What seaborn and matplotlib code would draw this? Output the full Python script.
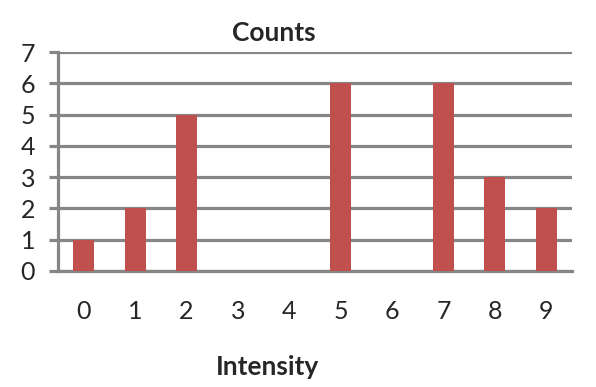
import matplotlib
matplotlib.use("Agg")
from matplotlib import pyplot as plt
import numpy as np
import pandas as pd
import seaborn as sns

# Data
intensity = ["0", "1", "2", "3", "4", "5", "6", "7", "8", "9"]
counts = [1, 2, 5, 0, 0, 6, 0, 6, 3, 2]
y_ticks = [0, 1, 2, 3, 4, 5, 6, 7]

df = pd.DataFrame({"Intensity": intensity, "Counts": counts})

sns.set_style("white")
plt.rcParams['font.family'] = ['Lato', 'DejaVu Sans']

grey = "#868686"
fig = plt.figure(figsize=(5.96, 3.87), dpi=100)
ax = fig.add_axes([58 / 596, 1 - 271 / 387, (572 - 58) / 596, (271 - 52) / 387])

ax.grid(axis="y", color=grey, linewidth=2.3, zorder=0)
ax.set_axisbelow(True)
sns.barplot(data=df, x="Intensity", y="Counts", color="#C0504D", saturation=1,
            width=0.41, linewidth=0, ax=ax, zorder=3)

ax.set_xlim(-0.5, 9.5)
ax.set_ylim(0, 7)
ax.set_yticks(y_ticks)
ax.set_xticks(np.arange(-0.5, 10, 1), minor=True)

for s in ["top", "right"]:
    ax.spines[s].set_visible(False)
for s in ["left", "bottom"]:
    ax.spines[s].set_color(grey)
    ax.spines[s].set_linewidth(2.3)

ax.tick_params(axis="y", which="major", length=6.5, width=2.3, color=grey,
               direction="out", labelsize=18, pad=10)
ax.tick_params(axis="x", which="major", length=0, labelsize=18, pad=21)
ax.tick_params(axis="x", which="minor", length=7.5, width=2.3, color=grey, direction="out")
ax.tick_params(left=True)

ax.set_xlabel("")
ax.set_ylabel("")

fig.text(274 / 596, 1 - 33 / 387, "Counts", ha="center", va="center",
         fontsize=19, fontweight="bold")
fig.text(268 / 596, 1 - 367 / 387, "Intensity", ha="center", va="center",
         fontsize=19, fontweight="bold")

fig.savefig("out.png", dpi=100)
